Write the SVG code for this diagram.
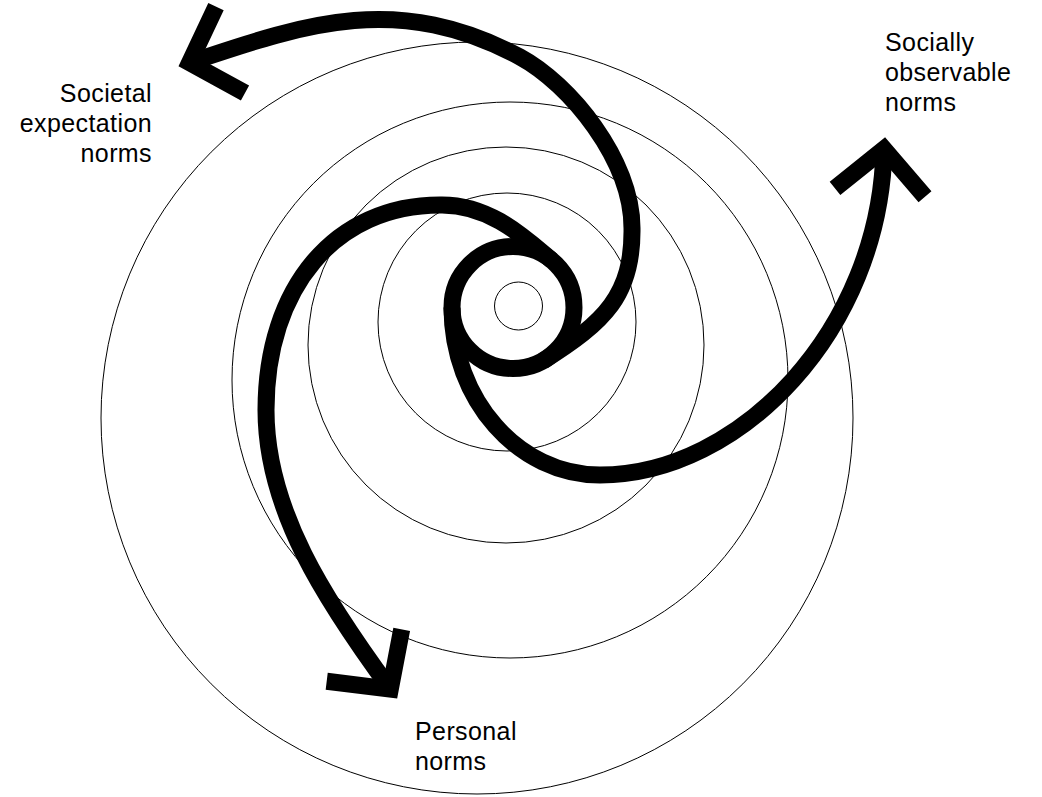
<svg xmlns="http://www.w3.org/2000/svg" width="1042" height="797" viewBox="0 0 1042 797">
<style>
.ring{fill:none;stroke:#000;stroke-width:1}
.arm{fill:none;stroke:#000;stroke-width:17;stroke-linecap:butt;stroke-linejoin:miter;stroke-miterlimit:6}
.lbl{font-family:"Liberation Sans",Arial,Helvetica,sans-serif;font-size:25px;letter-spacing:0.4px;fill:#000}
</style>
<rect width="1042" height="797" fill="#fff"/>
<g id="rings">
<circle class="ring" cx="477" cy="418" r="376"/>
<circle class="ring" cx="510" cy="380" r="278"/>
<circle class="ring" cx="506" cy="345" r="198"/>
<circle class="ring" cx="507" cy="322" r="129"/>
<circle class="ring" cx="518.5" cy="306" r="24"/>
</g>
<g id="connectors">
<circle class="arm" cx="513" cy="307.5" r="61"/>
<path id="arm-societal" class="arm" d="M543,361 C605,322 633,295 632,228 C632,160 570,84 520,57 C396.8,-8.8 303.6,24.4 189.6,62.6"/>
<path id="head-societal" class="arm" d="M216,6.7 L189.6,62.6 L245,93"/>
<path id="arm-observable" class="arm" d="M452,307.5 C452,400 518.5,475 600,475 C740,475 880,330 884,149"/>
<path id="head-observable" class="arm" d="M835,188.3 L884,149 L925,196.7"/>
<path id="arm-personal" class="arm" d="M552.2,260.8 C525.4,238.3 490,204 440,205 C335.6,205 266,287 266,410 C266,510 325.2,600.4 390.3,689.1"/>
<path id="head-personal" class="arm" d="M401.7,629.3 L390.3,689.1 L326.7,681.3"/>
</g>
<g id="node-societal">
<text class="lbl" text-anchor="end" x="152" y="102">Societal</text>
<text class="lbl" text-anchor="end" x="152" y="132">expectation</text>
<text class="lbl" text-anchor="end" x="152" y="162">norms</text>
</g>
<g id="node-observable">
<text class="lbl" x="885" y="51">Socially</text>
<text class="lbl" x="885" y="81">observable</text>
<text class="lbl" x="885" y="111">norms</text>
</g>
<g id="node-personal">
<text class="lbl" x="415" y="740">Personal</text>
<text class="lbl" x="415" y="770">norms</text>
</g>
</svg>
